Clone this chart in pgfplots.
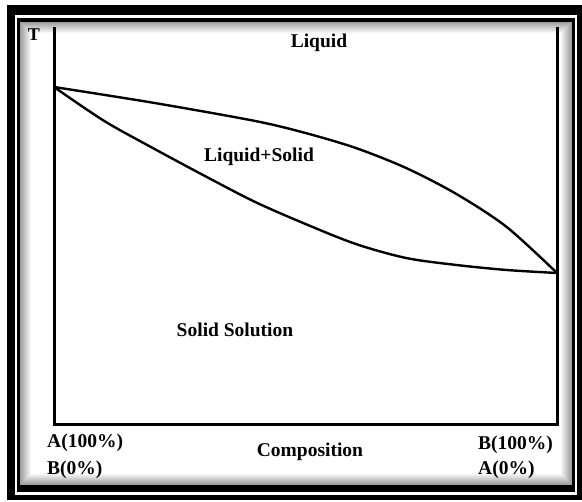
\documentclass[border=0pt]{standalone}
\usepackage{pgfplots}
\pgfplotsset{compat=1.18}
\usepackage{fontspec}
\setmainfont{Liberation Serif}
\begin{document}
\begin{tikzpicture}[x=1pt,y=1pt]
\useasboundingbox (0,0) rectangle (582,-502);
% frame
\fill[black] (7,-5) rectangle (582,-500);
\fill[white] (15,-15) rectangle (577,-495);
\fill[black] (17,-18) rectangle (575,-492);
\foreach \i [evaluate=\i as \g using 38-3.4*\i] in {0,...,11}{
  \fill[black!\g] (20+\i,-22-\i) rectangle (572-\i,-485+\i);
}
\fill[white] (32,-34) rectangle (560,-473);
\begin{axis}[
  at={(54pt,-425pt)}, anchor=south west,
  scale only axis, width=503pt, height=398pt,
  xmin=0, xmax=100, ymin=0, ymax=398,
  hide axis, clip=false]
\addplot[black, line width=3pt] coordinates {(0,398) (0,0) (100,0) (100,398)};
\addplot[black, line width=2.4pt, smooth, tension=0.5] coordinates {
(0,338) (20,322) (40,304) (50,292) (60,277) (70,257) (80,231) (90,198) (100,152)};
\addplot[black, line width=2.4pt, smooth, tension=0.5] coordinates {
(0,338) (10,304) (20,276) (30,249) (40,223) (50,201) (60,181) (70,167) (80,160) (90,155) (100,152)};
\end{axis}
\begin{scope}[every node/.style={inner sep=0pt, font=\fontsize{19.5}{22}\selectfont\bfseries}]
\node[font=\fontsize{18}{20}\selectfont\bfseries] at (34,-35) {T};
\node at (319,-43) {Liquid};
\node at (259,-157) {Liquid+Solid};
\node at (235,-330) {Solid Solution};
\node at (310,-452) {Composition};
\node[anchor=west] at (47,-443) {A(100\%)};
\node[anchor=west] at (47,-470) {B(0\%)};
\node[anchor=west] at (478,-445) {B(100\%)};
\node[anchor=west] at (478,-470) {A(0\%)};
\end{scope}
\end{tikzpicture}
\end{document}
